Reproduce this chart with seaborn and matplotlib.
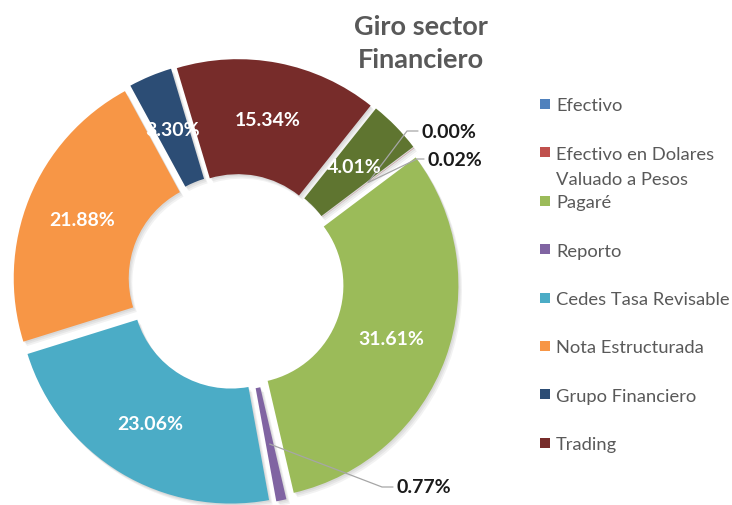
import numpy as np
import matplotlib.pyplot as plt
from matplotlib.patches import Rectangle
import seaborn as sns

# data
categories = ["Efectivo", "Efectivo en Dolares\nValuado a Pesos", "Pagaré", "Reporto",
              "Cedes Tasa Revisable", "Nota Estructurada", "Grupo Financiero", "Trading", "Otros"]
shares = [0.00, 0.02, 31.61, 0.77, 23.06, 21.88, 3.30, 15.34, 4.01]
slice_colors = ["#4f81bd", "#c0504d", "#9bbb59", "#8064a2", "#4bacc6",
                "#f79646", "#2c4d75", "#772c2a", "#5f7530"]
legend_count = 8  # the legend in the original only lists the first 8

sns.set_theme(style="white")
plt.rcParams['font.family'] = ['Lato', 'DejaVu Sans']

W, H = 732, 506
fig = plt.figure(figsize=(W / 100, H / 100), dpi=100)
ax = fig.add_axes([0, 0, 1, 1])


def iy(y):
    # image y (top down) -> data y
    return H - y


CX, CY = 236, iy(283)
R, RING = 213, 115
EXPL = 10  # pie offsets are in data units here (pixels)
START = 90 - 53
palette = sns.color_palette(slice_colors)
explode = [EXPL] * len(shares)

# soft drop shadow: a few faint offset copies
for k in (1, 2, 3):
    ax.pie(shares, radius=R, center=(CX + 1.2 * k, CY - 1.5 * k), startangle=START,
           counterclock=False, explode=explode, colors=["#000000"] * len(shares),
           wedgeprops=dict(width=RING, linewidth=0, alpha=0.05))

wedges, _ = ax.pie(shares, radius=R, center=(CX, CY), startangle=START,
                   counterclock=False, explode=explode, colors=palette,
                   wedgeprops=dict(width=RING, linewidth=0))

# labels: big slices inside, tiny ones outside with leader lines
outside = {0: ((407, 132), (418, 132)),
           1: ((417, 160), (424, 160)),
           3: ((382, 488), (393, 488))}
for i, (w, v) in enumerate(zip(wedges, shares)):
    ang = np.deg2rad((w.theta1 + w.theta2) / 2)
    x = w.center[0] + (R - RING / 2) * np.cos(ang)
    y = w.center[1] + (R - RING / 2) * np.sin(ang)
    if i in outside:
        (ex, ey), (tx, ty) = outside[i]
        ax.plot([x, ex, tx], [y, iy(ey), iy(ty)], color="#a6a6a6", lw=0.9, zorder=5)
        ax.text(tx + 3, iy(ty), f"{v:.2f}%", color="#1a1a1a", fontsize=14,
                fontweight="bold", ha="left", va="center")
    else:
        ax.text(x, y, f"{v:.2f}%", color="white", fontsize=14, fontweight="bold",
                ha="center", va="center", zorder=6)

# title
ax.text(421, iy(43), "Giro sector\nFinanciero", ha="center", va="center", fontsize=19.5,
        fontweight="bold", color="#595959", linespacing=1.45)

# legend drawn by hand to keep Excel's fixed row step
for i in range(legend_count):
    yc = 105 + i * 48.4
    ax.add_patch(Rectangle((540, iy(yc) - 5), 10, 10, color=palette[i], lw=0))
    for j, line in enumerate(categories[i].split("\n")):
        ax.text(556, iy(yc + 6.3 + j * 25), line, ha="left", va="baseline",
                fontsize=13.2, color="#595959")

ax.set_xlim(0, W)
ax.set_ylim(0, H)
ax.set_aspect("equal")
ax.axis("off")

fig.savefig("out.png", dpi=100, facecolor="white")
